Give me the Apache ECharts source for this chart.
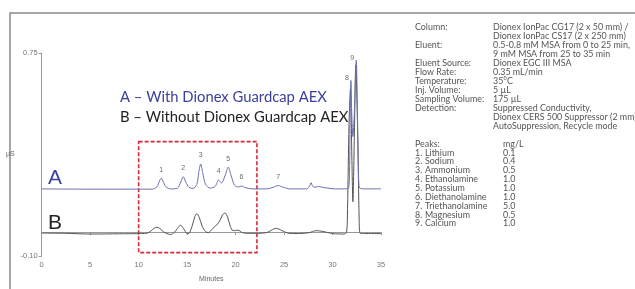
<!DOCTYPE html>
<html>
<head>
<meta charset="utf-8">
<script src="https://cdn.jsdelivr.net/npm/echarts@6/dist/echarts.min.js"></script>
<style>
  html, body { margin: 0; padding: 0; background: #fff; }
  #main { width: 635px; height: 289px; }
</style>
</head>
<body>
<div id="main"></div>
<script>
// trace A: with Guardcap (minutes, µS)
var traceA = [[0,0.181],[4,0.180],[9,0.180],[11.4,0.180],[11.9,0.19],[12.15,0.214],[12.33,0.226],[12.5,0.214],[12.8,0.19],[13.3,0.181],
  [14.0,0.184],[14.35,0.21],[14.6,0.232],[14.85,0.21],[15.2,0.187],[15.6,0.183],[16.0,0.20],[16.2,0.25],[16.4,0.285],[16.6,0.25],
  [16.9,0.20],[17.4,0.184],[17.9,0.192],[18.25,0.218],[18.55,0.206],[18.9,0.235],[19.25,0.272],[19.55,0.235],[19.9,0.196],[20.3,0.189],
  [20.6,0.193],[21.0,0.186],[21.8,0.181],[23.2,0.181],[23.9,0.188],[24.4,0.195],[24.9,0.188],[25.6,0.181],[27.3,0.181],[27.6,0.19],
  [27.78,0.207],[27.95,0.192],[28.2,0.188],[28.55,0.191],[29.2,0.186],[30.3,0.181],[31.6,0.182],[31.75,0.25],[31.82,0.5],[31.9,0.635],
  [31.98,0.5],[32.1,0.4],[32.25,0.5],[32.45,0.72],[32.55,0.55],[32.65,0.3],[32.72,0.2],[32.85,0.183],[33.4,0.181],[35,0.181]];

// trace B: without Guardcap
var traceB = [[0,-0.004],[2.5,-0.005],[5,-0.008],[8,-0.007],[10.3,-0.006],[10.9,-0.004],[11.3,0.006],[11.6,0.016],[11.9,0.020],[12.2,0.015],
  [12.55,0.002],[12.9,-0.006],[13.3,-0.010],[13.7,0.0],[14.0,0.015],[14.3,0.029],[14.65,0.014],[15.0,-0.006],[15.2,-0.005],[15.55,0.03],
  [15.8,0.065],[16.0,0.077],[16.25,0.062],[16.55,0.025],[16.9,0.002],[17.2,-0.002],[17.5,0.008],[17.8,0.022],[18.05,0.03],[18.35,0.046],
  [18.65,0.072],[18.9,0.08],[19.15,0.066],[19.45,0.025],[19.75,0.006],[20.25,0.008],[20.7,-0.002],[21.2,-0.005],[21.8,-0.005],[23.2,-0.002],
  [23.7,0.008],[24.2,0.016],[24.8,0.006],[25.5,-0.005],[26.5,-0.006],[27.6,-0.002],[28.3,0.006],[29.0,0.003],[30.0,-0.006],[31.2,-0.008],
  [31.45,0.0],[31.55,0.1],[31.7,0.45],[31.85,0.6],[32.0,0.3],[32.1,0.127],[32.25,0.4],[32.4,0.7],[32.6,0.4],[32.75,0.05],
  [32.85,-0.005],[33.2,-0.006],[35,-0.006]];

// peak numbers sit on the apex of trace A
var peakNums = ['1','2','3','4','5','6','7','8','9'];
var peakTimes = [12.33, 14.6, 16.4, 18.25, 19.25, 20.6, 24.4, 31.9, 32.45];
var peakTops = [0.226, 0.232, 0.285, 0.218, 0.272, 0.193, 0.195, 0.635, 0.72];

var yTicks = [-0.10, 0.75];
var boxRange = { x0: 10, x1: 22.2, y0: -0.086, y1: 0.379 };

var legendA = 'A \u2013 With Dionex Guardcap AEX';
var legendB = 'B \u2013 Without Dionex Guardcap AEX';

var condLabels = ['Column:', '', 'Eluent:', '', 'Eluent Source:', 'Flow Rate:', 'Temperature:', 'Inj. Volume:', 'Sampling Volume:', 'Detection:', '', ''];
var condValues = ['Dionex IonPac CG17 (2 x 50 mm) /', 'Dionex IonPac CS17 (2 x 250 mm)', '0.5-0.8 mM MSA from 0 to 25 min,',
  '9 mM MSA from 25 to 35 min', 'Dionex EGC III MSA', '0.35 mL/min', '35\u00b0C', '5 \u00b5L', '175 \u00b5L',
  'Suppressed Conductivity,', 'Dionex CERS 500 Suppressor (2 mm),', 'AutoSuppression, Recycle mode'];

var peakNames = ['Lithium', 'Sodium', 'Ammonium', 'Ethanolamine', 'Potassium', 'Diethanolamine', 'Triethanolamine', 'Magnesium', 'Calcium'];
var peakConc = ['0.1', '0.4', '0.5', '1.0', '1.0', '1.0', '5.0', '0.5', '1.0'];

var chart = echarts.init(document.getElementById('main'));

var txtFont = '8.9px Lato';
var txtColor = '#555';
function txt(s, x, y, font, fill) {
  return { type: 'text', style: { text: s, x: x, y: y, font: font || txtFont, fill: fill || txtColor, textVerticalAlign: 'middle', verticalAlign: 'middle' } };
}
var graphics = [
  { type: 'polyline', shape: { points: [[10, 289], [10, 13], [635, 13]] }, style: { stroke: '#8a8a8a', lineWidth: 1.5, fill: null } },
  txt(legendA, 120, 97, '14.8px Lato', '#3c3f9c'),
  txt(legendB, 120, 117, '14.8px Lato', '#222'),
  txt('A', 48, 178, '21px "Liberation Sans"', '#3c44a0'),
  txt('B', 48, 223, '21px "Liberation Sans"', '#222')
];
condLabels.forEach(function (t, i) {
  var y = 26.7 + i * 9.03;
  if (t) graphics.push(txt(t, 415, y));
  graphics.push(txt(condValues[i], 493, y));
});
graphics.push(txt('Peaks:', 415, 144));
graphics.push(txt('mg/L', 503, 144));
peakNames.forEach(function (n, i) {
  var y = 152.7 + i * 8.85;
  graphics.push(txt((i + 1) + '.', 415, y));
  graphics.push(txt(n, 425, y));
  graphics.push(txt(peakConc[i], 503, y));
});

var peakData = peakTimes.map(function (t, i) {
  var item = { value: [t, peakTops[i]], name: peakNums[i] };
  if (i >= 7) item.label = { offset: [-4, 6] };
  return item;
});

var option = {
  animation: false,
  grid: { left: 41.7, right: 254, top: 53, bottom: 33, outerBoundsMode: 'none' },
  xAxis: {
    type: 'value', min: 0, max: 35, interval: 5,
    name: 'Minutes', nameLocation: 'middle', nameGap: 20,
    nameTextStyle: { fontSize: 7, color: '#666', fontFamily: 'Liberation Sans' },
    axisLine: { lineStyle: { color: '#999', width: 1 } },
    axisTick: { show: true, length: 3, lineStyle: { color: '#999' } },
    axisLabel: { fontSize: 7.5, color: '#777', margin: 5, fontFamily: 'Liberation Sans' },
    splitLine: { show: false }
  },
  yAxis: {
    type: 'value', min: -0.1, max: 0.75,
    name: '\u00b5S', nameLocation: 'middle', nameRotate: 0, nameGap: 10,
    nameTextStyle: { fontSize: 7, color: '#666', fontFamily: 'Liberation Sans' },
    axisLine: { show: true, lineStyle: { color: '#999', width: 1 } },
    axisTick: { show: true, length: 3, customValues: yTicks, lineStyle: { color: '#999' } },
    axisLabel: { fontSize: 7.5, color: '#777', margin: 4, fontFamily: 'Liberation Sans', customValues: yTicks,
      formatter: function (v) { return v.toFixed(2); } },
    splitLine: { show: false }
  },
  series: [
    {
      name: 'B', type: 'line', data: traceB, smooth: 0.3, symbol: 'none',
      lineStyle: { color: '#555', width: 1 }
    },
    {
      name: 'A', type: 'line', data: traceA, smooth: 0.3, symbol: 'none',
      lineStyle: { color: '#6b70ad', width: 1 },
      markArea: {
        silent: true,
        itemStyle: { color: 'rgba(0,0,0,0)', borderColor: '#d42a3a', borderWidth: 1.6, borderType: [4, 2] },
        data: [[{ coord: [boxRange.x0, boxRange.y1] }, { coord: [boxRange.x1, boxRange.y0] }]]
      }
    },
    {
      name: 'peaks', type: 'scatter', data: peakData, symbolSize: 0, silent: true,
      label: { show: true, position: 'top', distance: 5, formatter: '{b}', fontSize: 7, color: '#444', fontFamily: 'Liberation Sans' }
    }
  ],
  graphic: graphics
};
chart.setOption(option);
</script>
</body>
</html>
